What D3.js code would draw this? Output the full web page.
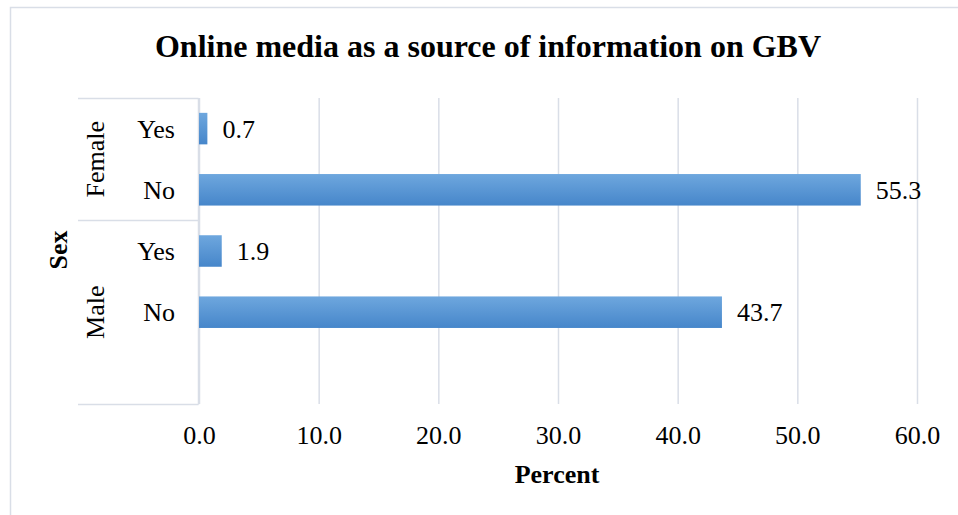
<!DOCTYPE html>
<html><head><meta charset="utf-8">
<script src="https://cdn.jsdelivr.net/npm/d3@7"></script>
<style>body{margin:0;background:#fff}svg{display:block}text{font-family:"Liberation Serif","Times New Roman",serif;fill:#000}</style>
</head><body>
<svg id="c" width="958" height="515"></svg>
<script>
const title = "Online media as a source of information on GBV";
const xTitle = "Percent";
const yTitle = "Sex";
const groups = ["Female","Female","Male","Male","Male"];
const answers = ["Yes","No","Yes","No",""];
const values = [0.7,55.3,1.9,43.7,null];
const groupNames = ["Female","Male"];
const xTicks = [0,10,20,30,40,50,60];

const svg = d3.select("#c");
const grid = "#d9dee7";
const keys = groups.map((g,i)=>g+"|"+i);

const x = d3.scaleLinear().domain([0,60]).range([199,917]);
const y = d3.scaleBand().domain(keys).range([98,404]).paddingInner(0.485).paddingOuter(0.2425);

// outer border (top and left)
svg.append("path").attr("d","M10.5,515 L10.5,7.5 L958,7.5").attr("fill","none").attr("stroke",grid).attr("stroke-width",1.5);

// gradient
const defs = svg.append("defs");
const lg = defs.append("linearGradient").attr("id","bg").attr("x1",0).attr("y1",0).attr("x2",0).attr("y2",1);
lg.append("stop").attr("offset","0%").attr("stop-color","#6ea7de");
lg.append("stop").attr("offset","100%").attr("stop-color","#4686ca");

// gridlines
const xAxis = d3.axisBottom(x).tickValues(xTicks).tickFormat(d3.format(".1f")).tickSize(-(404-98)).tickPadding(22);
const gx = svg.append("g").attr("transform","translate(0,404)").call(xAxis);
gx.select(".domain").remove();
gx.selectAll(".tick line").attr("stroke",grid).attr("stroke-width",1.5);
gx.selectAll(".tick text").attr("font-size",26).attr("font-family","Liberation Serif").attr("fill","#000").attr("dy","0.7em");

// category axis box
const yStep = y.step();
const groupBounds = groupNames.map(g=>{
  const idx = groups.map((v,i)=>v===g?i:-1).filter(i=>i>=0);
  const top = y(keys[idx[0]]) - y.paddingInner()*yStep/2;
  const bot = y(keys[idx[idx.length-1]]) + y.bandwidth() + y.paddingInner()*yStep/2;
  return {g, top, bot};
});
const sepYs = [98, ...groupBounds.map(b=>b.bot)];
svg.selectAll(".sep").data(sepYs).join("line")
  .attr("x1",78).attr("x2",198.5).attr("y1",d=>Math.round(d)+0.5).attr("y2",d=>Math.round(d)+0.5)
  .attr("stroke",grid).attr("stroke-width",1.5);
svg.append("line").attr("x1",198.5).attr("x2",198.5).attr("y1",98).attr("y2",404.5).attr("stroke",grid).attr("stroke-width",1.5);

// bars
const data = values.map((v,i)=>({k:keys[i],v,a:answers[i]}));
svg.selectAll(".bar").data(data.filter(d=>d.v!=null)).join("rect")
  .attr("x",x(0)).attr("y",d=>y(d.k)).attr("width",d=>x(d.v)-x(0)).attr("height",y.bandwidth())
  .attr("fill","url(#bg)");

// data labels
svg.selectAll(".lbl").data(data.filter(d=>d.v!=null)).join("text")
  .attr("x",d=>x(d.v)+15).attr("y",d=>y(d.k)+y.bandwidth()/2).attr("dy","0.35em")
  .attr("font-size",26).text(d=>d.v.toFixed(1));

// answer labels
svg.selectAll(".ans").data(data).join("text")
  .attr("x",175).attr("y",d=>y(d.k)+y.bandwidth()/2).attr("dy","0.35em").attr("text-anchor","end")
  .attr("font-size",26).text(d=>d.a);

// group labels
svg.selectAll(".grp").data(groupBounds).join("text")
  .attr("transform",d=>`translate(95,${(d.top+d.bot)/2}) rotate(-90)`)
  .attr("text-anchor","middle").attr("dy","0.35em").attr("font-size",26).text(d=>d.g);

// titles
svg.append("text").attr("x",488).attr("y",57).attr("text-anchor","middle").attr("font-size",32).attr("font-weight","bold").text(title);
svg.append("text").attr("x",557).attr("y",483).attr("text-anchor","middle").attr("font-size",26).attr("font-weight","bold").text(xTitle);
svg.append("text").attr("transform","translate(58,250) rotate(-90)").attr("text-anchor","middle").attr("dy","0.35em").attr("font-size",26).attr("font-weight","bold").text(yTitle);
</script>
</body></html>
